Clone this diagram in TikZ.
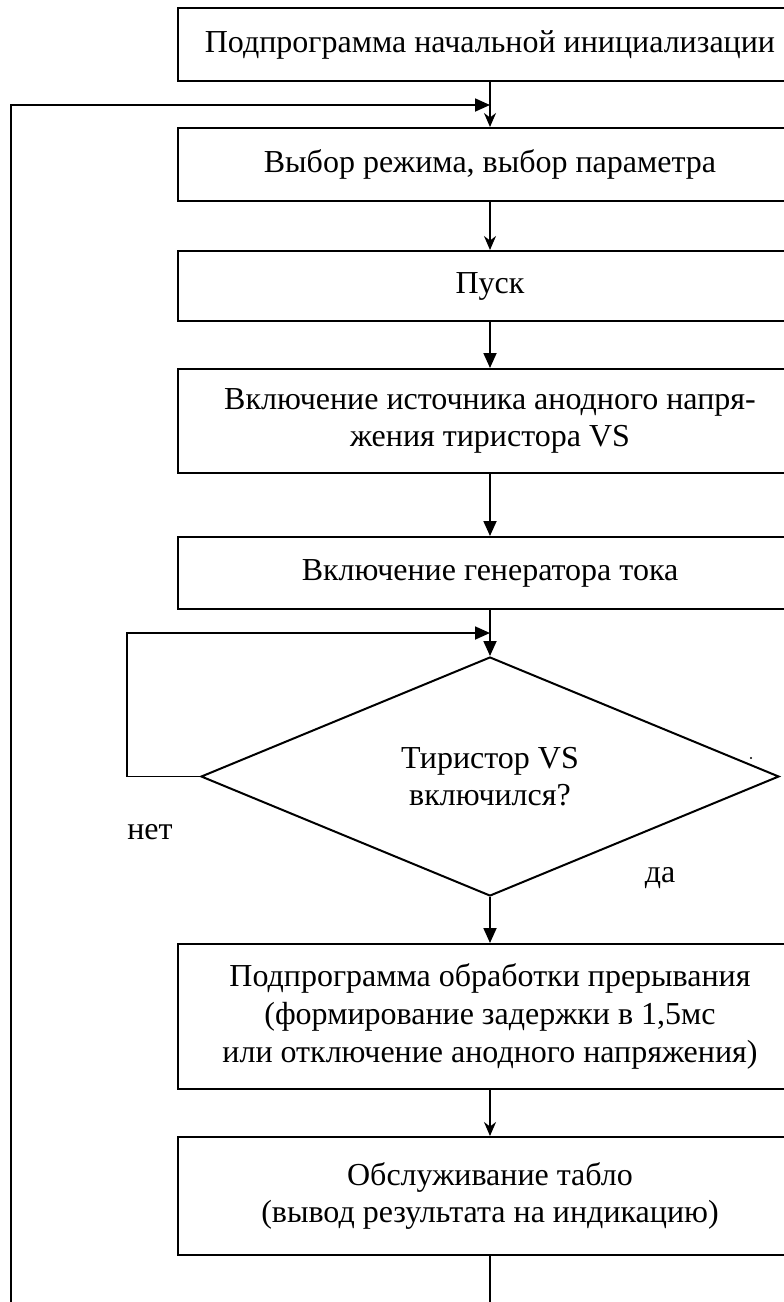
\documentclass[tikz,border=0pt]{standalone}
\usepackage{fontspec}
\setmainfont{Liberation Serif}
\usetikzlibrary{arrows.meta,shapes.geometric}

\begin{document}
\begin{tikzpicture}[x=0.5pt,y=-0.5pt,
  every node/.style={font=\fontsize{16}{18.8}\selectfont},
  blockbox/.style={draw,line width=1pt,minimum width=312pt,align=center,inner sep=0pt},
  decbox/.style={draw,diamond,line width=1pt,minimum width=289pt,minimum height=119.5pt,align=center,inner sep=0pt},
  thinarr/.style={line width=0.9pt,-{Stealth[length=7pt,width=6pt]}},
  fatarr/.style={line width=0.9pt,-{Triangle[length=7.5pt,width=6.5pt]}}]
  \useasboundingbox (0,0) rectangle (783,1302);
  % blocks
  \node[blockbox,minimum height=36.5pt] (init) at (490,44.5) {Подпрограмма начальной инициализации};
  \node[blockbox,minimum height=36.5pt] (mode) at (490,164.5) {Выбор режима, выбор параметра};
  \node[blockbox,minimum height=35pt] (start) at (490,286) {Пуск};
  \node[blockbox,minimum height=52pt] (anode) at (490,421) {Включение источника анодного напря-\\жения тиристора VS};
  \node[blockbox,minimum height=36pt] (gen) at (490,573) {Включение генератора тока};
  \node[decbox] (vs) at (490,776.5) {Тиристор VS\\включился?};
  \node[blockbox,minimum height=72.5pt] (irq) at (490,1016.5) {Подпрограмма обработки прерывания\\(формирование задержки в 1,5мс\\или отключение анодного напряжения)};
  \node[blockbox,minimum height=59pt] (tablo) at (490,1196) {Обслуживание табло\\(вывод результата на индикацию)};
  \node (no) at (150,832) {нет};
  \node (yes) at (660,878) {да};
  \fill (751,758) circle (0.6pt);
  % junctions
  \coordinate (j1) at (490,105);
  \coordinate (j2) at (490,633);
  \coordinate (fin) at (490,1302);
  \coordinate (back) at (11,1302);
  % connectors
  \draw[thinarr] (init.south) -- (mode.north);
  \draw[thinarr] (mode.south) -- (start.north);
  \draw[fatarr] (start.south) -- (anode.north);
  \draw[fatarr] (anode.south) -- (gen.north);
  \draw[fatarr] (gen.south) -- (vs.north);
  \draw[fatarr] (vs.south) -- (irq.north);
  \draw[thinarr] (irq.south) -- (tablo.north);
  \draw[line width=0.9pt] (tablo.south) -- (fin);
  \draw[fatarr] (vs.west) -- ++(-73,0) |- (j2);
  \draw[fatarr] (back) |- (j1);
\end{tikzpicture}
\end{document}
